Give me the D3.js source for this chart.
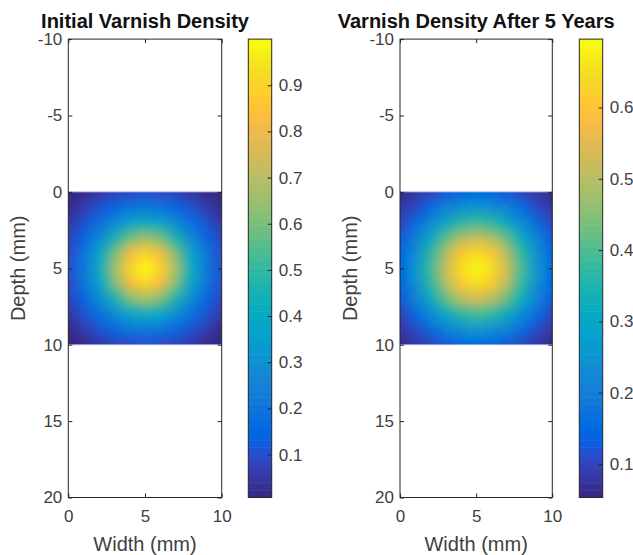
<!DOCTYPE html>
<html>
<head>
<meta charset="utf-8">
<script src="https://cdn.jsdelivr.net/npm/d3@7"></script>
<style>
  body { margin: 0; background: #fff; }
  text { font-family: "Liberation Sans", Arial, Helvetica, sans-serif; }
</style>
</head>
<body>
<div id="chart"></div>
<script>
var svgWidth = 633;
var svgHeight = 555;

// grid nodes (mm)
var gridX = [0, 1, 2, 3, 4, 5, 6, 7, 8, 9, 10];
var gridY = [0, 1, 2, 3, 4, 5, 6, 7, 8, 9, 10];

// density, one row per depth in gridY
var initialDensity = [
  [0.007, 0.022, 0.045, 0.075, 0.100, 0.110, 0.100, 0.075, 0.045, 0.022, 0.007],
  [0.022, 0.055, 0.110, 0.155, 0.197, 0.215, 0.197, 0.155, 0.110, 0.055, 0.022],
  [0.045, 0.110, 0.180, 0.285, 0.378, 0.415, 0.378, 0.285, 0.180, 0.110, 0.045],
  [0.075, 0.155, 0.285, 0.455, 0.607, 0.670, 0.607, 0.455, 0.285, 0.155, 0.075],
  [0.100, 0.197, 0.378, 0.607, 0.819, 0.905, 0.819, 0.607, 0.378, 0.197, 0.100],
  [0.110, 0.215, 0.415, 0.670, 0.905, 1.000, 0.905, 0.670, 0.415, 0.215, 0.110],
  [0.100, 0.197, 0.378, 0.607, 0.819, 0.905, 0.819, 0.607, 0.378, 0.197, 0.100],
  [0.075, 0.155, 0.285, 0.455, 0.607, 0.670, 0.607, 0.455, 0.285, 0.155, 0.075],
  [0.045, 0.110, 0.180, 0.285, 0.378, 0.415, 0.378, 0.285, 0.180, 0.110, 0.045],
  [0.022, 0.055, 0.110, 0.155, 0.197, 0.215, 0.197, 0.155, 0.110, 0.055, 0.022],
  [0.007, 0.022, 0.045, 0.075, 0.100, 0.110, 0.100, 0.075, 0.045, 0.022, 0.007]
];

var laterDensity = [
  [0.053, 0.075, 0.100, 0.130, 0.152, 0.160, 0.152, 0.130, 0.100, 0.075, 0.053],
  [0.075, 0.112, 0.160, 0.205, 0.242, 0.256, 0.242, 0.205, 0.160, 0.112, 0.075],
  [0.100, 0.160, 0.228, 0.306, 0.367, 0.390, 0.367, 0.306, 0.228, 0.160, 0.100],
  [0.130, 0.205, 0.306, 0.415, 0.501, 0.535, 0.501, 0.415, 0.306, 0.205, 0.130],
  [0.152, 0.242, 0.367, 0.501, 0.610, 0.651, 0.610, 0.501, 0.367, 0.242, 0.152],
  [0.160, 0.256, 0.390, 0.535, 0.651, 0.696, 0.651, 0.535, 0.390, 0.256, 0.160],
  [0.152, 0.242, 0.367, 0.501, 0.610, 0.651, 0.610, 0.501, 0.367, 0.242, 0.152],
  [0.130, 0.205, 0.306, 0.415, 0.501, 0.535, 0.501, 0.415, 0.306, 0.205, 0.130],
  [0.100, 0.160, 0.228, 0.306, 0.367, 0.390, 0.367, 0.306, 0.228, 0.160, 0.100],
  [0.075, 0.112, 0.160, 0.205, 0.242, 0.256, 0.242, 0.205, 0.160, 0.112, 0.075],
  [0.053, 0.075, 0.100, 0.130, 0.152, 0.160, 0.152, 0.130, 0.100, 0.075, 0.053]
];

var xTicks = [0, 5, 10];
var yTicks = [-10, -5, 0, 5, 10, 15, 20];
var initialBarTicks = [0.1, 0.2, 0.3, 0.4, 0.5, 0.6, 0.7, 0.8, 0.9];
var laterBarTicks = [0.1, 0.2, 0.3, 0.4, 0.5, 0.6];

// MATLAB parula, 64 steps
var parula = [
  [0.2081,0.1663,0.5292],[0.2116,0.1898,0.5777],[0.2123,0.2138,0.6270],[0.2081,0.2386,0.6771],
  [0.1959,0.2645,0.7279],[0.1707,0.2919,0.7792],[0.1253,0.3242,0.8303],[0.0591,0.3598,0.8683],
  [0.0117,0.3875,0.8820],[0.0060,0.4086,0.8828],[0.0165,0.4266,0.8786],[0.0329,0.4430,0.8720],
  [0.0498,0.4586,0.8641],[0.0629,0.4737,0.8554],[0.0723,0.4887,0.8467],[0.0779,0.5040,0.8384],
  [0.0793,0.5200,0.8312],[0.0749,0.5375,0.8263],[0.0641,0.5570,0.8240],[0.0488,0.5772,0.8228],
  [0.0343,0.5966,0.8199],[0.0265,0.6137,0.8135],[0.0239,0.6287,0.8038],[0.0231,0.6418,0.7913],
  [0.0228,0.6535,0.7768],[0.0267,0.6642,0.7607],[0.0384,0.6743,0.7436],[0.0590,0.6838,0.7254],
  [0.0843,0.6928,0.7062],[0.1133,0.7015,0.6859],[0.1453,0.7098,0.6646],[0.1801,0.7177,0.6424],
  [0.2178,0.7250,0.6193],[0.2586,0.7317,0.5954],[0.3022,0.7376,0.5712],[0.3482,0.7424,0.5473],
  [0.3953,0.7459,0.5244],[0.4420,0.7481,0.5033],[0.4871,0.7491,0.4840],[0.5300,0.7491,0.4661],
  [0.5709,0.7485,0.4494],[0.6099,0.7473,0.4337],[0.6473,0.7456,0.4188],[0.6834,0.7435,0.4044],
  [0.7184,0.7411,0.3905],[0.7525,0.7384,0.3768],[0.7858,0.7356,0.3633],[0.8185,0.7327,0.3498],
  [0.8507,0.7299,0.3360],[0.8824,0.7274,0.3217],[0.9139,0.7258,0.3063],[0.9450,0.7261,0.2886],
  [0.9739,0.7314,0.2666],[0.9938,0.7455,0.2403],[0.9990,0.7653,0.2164],[0.9955,0.7861,0.1967],
  [0.9880,0.8066,0.1794],[0.9789,0.8271,0.1633],[0.9697,0.8481,0.1475],[0.9626,0.8705,0.1309],
  [0.9589,0.8949,0.1132],[0.9598,0.9218,0.0948],[0.9661,0.9514,0.0755],[0.9763,0.9831,0.0538]
].map(c => d3.rgb(c[0] * 255, c[1] * 255, c[2] * 255).formatHex());

var axisColor = "#262626";
var labelColor = "#404040";
var plain = d => String(d);   // "-10", "0.6" as in the reference

var panels = [
  { title: "Initial Varnish Density", data: initialDensity, barTicks: initialBarTicks,
    left: 68.3, right: 221.7, barLeft: 248.3, barRight: 271.7 },
  { title: "Varnish Density After 5 Years", data: laterDensity, barTicks: laterBarTicks,
    left: 400, right: 552.3, barLeft: 579.3, barRight: 602.7 }
];
var plotTop = 39.1, plotBottom = 497.5;

var svg = d3.select("#chart")
  .append("svg")
  .attr("width", svgWidth)
  .attr("height", svgHeight);

// soften the bilinear corners a little
svg.append("filter").attr("id", "soft")
  .append("feGaussianBlur").attr("stdDeviation", 3);

panels.forEach(function(p, k) {
  var xScale = d3.scaleLinear().domain([0, 10]).range([p.left, p.right]);
  var yScale = d3.scaleLinear().domain([-10, 20]).range([plotTop, plotBottom]);

  var flat = d3.merge(p.data);
  var vmin = d3.min(flat), vmax = d3.max(flat);
  var color = d3.scaleQuantize().domain([vmin, vmax]).range(parula);

  // heat map: one pixel per grid node (edge pixels repeated as a border),
  // smoothed by the browser when scaled
  var pad = 2;
  var nx = gridX.length, ny = gridY.length;
  var cv = document.createElement("canvas");
  cv.width = nx + 2 * pad;
  cv.height = ny + 2 * pad;
  var ctx = cv.getContext("2d");
  for (var j = 0; j < ny + 2 * pad; j++) {
    for (var i = 0; i < nx + 2 * pad; i++) {
      var jj = Math.max(0, Math.min(ny - 1, j - pad));
      var ii = Math.max(0, Math.min(nx - 1, i - pad));
      ctx.fillStyle = color(p.data[jj][ii]);
      ctx.fillRect(i, j, 1, 1);
    }
  }

  var clipId = "clip" + k;
  svg.append("clipPath").attr("id", clipId)
    .append("rect")
    .attr("x", xScale(gridX[0]))
    .attr("y", yScale(gridY[0]))
    .attr("width", xScale(gridX[nx - 1]) - xScale(gridX[0]))
    .attr("height", yScale(gridY[ny - 1]) - yScale(gridY[0]));

  var stepX = gridX[1] - gridX[0], stepY = gridY[1] - gridY[0];
  var x0 = gridX[0] - stepX * (pad + 0.5), x1 = gridX[nx - 1] + stepX * (pad + 0.5);
  var y0 = gridY[0] - stepY * (pad + 0.5), y1 = gridY[ny - 1] + stepY * (pad + 0.5);
  svg.append("g")
    .attr("clip-path", `url(#${clipId})`)
    .append("image")
    .attr("filter", "url(#soft)")
    .attr("href", cv.toDataURL())
    .attr("preserveAspectRatio", "none")
    .attr("x", xScale(x0))
    .attr("y", yScale(y0))
    .attr("width", xScale(x1) - xScale(x0))
    .attr("height", yScale(y1) - yScale(y0));

  // light edge lines of the surface
  [gridY[0], gridY[ny - 1]].forEach(function(yv) {
    svg.append("line")
      .attr("x1", xScale(0)).attr("x2", xScale(10))
      .attr("y1", yScale(yv)).attr("y2", yScale(yv))
      .attr("stroke", "#a4a4dc").attr("stroke-width", 1);
  });

  // axes, ticks pointing inward
  var g = svg.append("g");
  var leftAx = g.append("g").attr("transform", `translate(${p.left},0)`)
    .call(d3.axisLeft(yScale).tickValues(yTicks).tickFormat(plain).tickSize(-4).tickPadding(6));
  var bottomAx = g.append("g").attr("transform", `translate(0,${plotBottom})`)
    .call(d3.axisBottom(xScale).tickValues(xTicks).tickFormat(plain).tickSize(-4).tickPadding(12));
  var rightAx = g.append("g").attr("transform", `translate(${p.right},0)`)
    .call(d3.axisRight(yScale).tickValues(yTicks).tickSize(-4).tickFormat(""));
  var topAx = g.append("g").attr("transform", `translate(0,${plotTop})`)
    .call(d3.axisTop(xScale).tickValues(xTicks).tickSize(-4).tickFormat(""));
  [leftAx, bottomAx, rightAx, topAx].forEach(function(a) {
    a.select(".domain").remove();
    a.selectAll("line").attr("stroke", axisColor);
    a.selectAll("text").attr("fill", labelColor).style("font-size", "17px");
  });
  svg.append("rect")
    .attr("x", p.left).attr("y", plotTop)
    .attr("width", p.right - p.left).attr("height", plotBottom - plotTop)
    .attr("fill", "none").attr("stroke", axisColor).attr("stroke-width", 1);

  // title and axis labels
  svg.append("text")
    .attr("x", (p.left + p.right) / 2).attr("y", 28)
    .attr("text-anchor", "middle")
    .style("font-size", "20px").style("font-weight", "bold")
    .attr("fill", "#111")
    .text(p.title);
  svg.append("text")
    .attr("x", (p.left + p.right) / 2).attr("y", 551)
    .attr("text-anchor", "middle")
    .style("font-size", "20px")
    .attr("fill", labelColor)
    .text("Width (mm)");
  svg.append("text")
    .attr("transform", `translate(${p.left - 43},${(plotTop + plotBottom) / 2}) rotate(-90)`)
    .attr("text-anchor", "middle")
    .style("font-size", "20px")
    .attr("fill", labelColor)
    .text("Depth (mm)");

  // colorbar
  var barScale = d3.scaleLinear().domain([vmin, vmax]).range([plotBottom, plotTop]);
  var steps = d3.range(parula.length);
  var stepSize = (vmax - vmin) / parula.length;
  svg.append("g").selectAll("rect")
    .data(steps)
    .enter()
    .append("rect")
    .attr("x", p.barLeft)
    .attr("width", p.barRight - p.barLeft)
    .attr("y", d => barScale(vmin + (d + 1) * stepSize))
    .attr("height", d => barScale(vmin + d * stepSize) - barScale(vmin + (d + 1) * stepSize) + 0.5)
    .attr("fill", d => parula[d]);
  var barAxis = svg.append("g").attr("transform", `translate(${p.barRight},0)`)
    .call(d3.axisRight(barScale).tickValues(p.barTicks).tickFormat(plain).tickSize(-4).tickPadding(7));
  barAxis.select(".domain").remove();
  barAxis.selectAll("line").attr("stroke", axisColor);
  barAxis.selectAll("text").attr("fill", labelColor).style("font-size", "17px");
  svg.append("rect")
    .attr("x", p.barLeft).attr("y", plotTop)
    .attr("width", p.barRight - p.barLeft).attr("height", plotBottom - plotTop)
    .attr("fill", "none").attr("stroke", axisColor).attr("stroke-width", 1);
});
</script>
</body>
</html>
